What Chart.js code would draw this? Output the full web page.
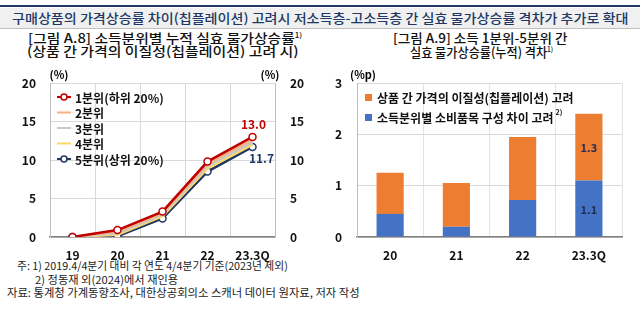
<!DOCTYPE html>
<html>
<head>
<meta charset="utf-8">
<script src="https://cdn.jsdelivr.net/npm/chart.js@4.4.0/dist/chart.umd.min.js"></script>
<style>
  body { margin: 0; width: 640px; height: 322px; background: #fff; position: relative; overflow: hidden;
         font-family: "Noto Sans CJK KR", "Noto Sans", sans-serif; }
  .abs { position: absolute; white-space: nowrap; transform-origin: 0 50%; line-height: 1; }
  #topline { position: absolute; left: 0; top: 5px; width: 640px; height: 2px; background: #1f3864; }
  #band { position: absolute; left: 0; top: 8px; width: 640px; height: 20px; background: #f0f0f0; border-bottom: 1px solid #bfbfbf; }
  #title { color: #203864; font-size: 13px; font-weight: 500; }
  .sub { color: #111; font-size: 13px; font-weight: 500; }
  .note { color: #222; font-size: 11px; }
  sup { font-size: 7px; vertical-align: 5px; line-height: 0; }
  canvas { position: absolute; }
</style>
</head>
<body>
<div id="topline"></div>
<div id="band"></div>
<div class="abs" id="title" data-x="12" data-y="17" data-w="616">구매상품의 가격상승률 차이(칩플레이션) 고려시 저소득층-고소득층 간 실효 물가상승률 격차가 추가로 확대</div>
<div class="abs sub" data-x="28" data-y="37" data-w="274">[그림 A.8] 소득분위별 누적 실효 물가상승률<sup>1)</sup></div>
<div class="abs sub" data-x="27" data-y="50" data-w="271">(상품 간 가격의 이질성(칩플레이션) 고려 시)</div>
<div class="abs sub" data-x="393" data-y="37" data-w="174">[그림 A.9] 소득 1분위-5분위 간</div>
<div class="abs sub" data-x="410" data-y="51" data-w="143">실효 물가상승률(누적) 격차<sup>1)</sup></div>
<div class="abs note" data-x="17" data-y="265" data-w="271">주: 1) 2019.4/4분기 대비 각 연도 4/4분기 기준(2023년 제외)</div>
<div class="abs note" data-x="35" data-y="279" data-w="143">2) 정동재 외(2024)에서 재인용</div>
<div class="abs note" data-x="7" data-y="292" data-w="353">자료: 통계청 가계동향조사, 대한상공회의소 스캐너 데이터 원자료, 저자 작성</div>

<canvas id="lineChart" width="320" height="206" style="left:0;top:60px;width:320px;height:206px"></canvas>
<canvas id="barChart" width="320" height="206" style="left:320px;top:60px;width:320px;height:206px"></canvas>

<script>
// left chart: cumulative effective inflation by income quintile (%)
const lineLabels = ['19', '20', '21', '22', '23.3Q'];
const q1 = [0, 0.9, 3.3, 9.8, 13.0];
const q2 = [0, 0.7, 3.1, 9.5, 12.6];
const q3 = [0, 0.5, 2.9, 9.2, 12.3];
const q4 = [0, 0.3, 2.7, 8.9, 12.0];
const q5 = [0, 0.1, 2.4, 8.5, 11.7];
const lineNames = ['1분위(하위 20%)', '2분위', '3분위', '4분위', '5분위(상위 20%)'];

// right chart: gap between Q1 and Q5 (%p)
const barLabels = ['20', '21', '22', '23.3Q'];
const chipGap = [0.8, 0.85, 1.23, 1.3];
const itemGap = [0.45, 0.2, 0.72, 1.1];
const barNames = ['상품 간 가격의 이질성(칩플레이션) 고려', '소득분위별 소비품목 구성 차이 고려'];

const FONT = '"Noto Sans CJK KR", "Noto Sans", sans-serif';

// place / squeeze the html text lines
document.querySelectorAll('.abs').forEach(el => {
    const w = parseFloat(el.dataset.w);
    const h = el.offsetHeight;
    el.style.left = el.dataset.x + 'px';
    el.style.top = (parseFloat(el.dataset.y) - h / 2) + 'px';
    el.style.transform = 'scaleX(' + (w / el.scrollWidth) + ')';
});

const lineColors = ['#c00000', '#f4b183', '#c9c9c9', '#ffd966', '#1f3864'];

function lineSet(i, data) {
    const marked = (i === 0 || i === 4);
    return {
        label: lineNames[i],
        data: data,
        borderColor: lineColors[i],
        backgroundColor: '#ffffff',
        borderWidth: 2.5,
        pointRadius: marked ? 3.5 : 0,
        pointBorderWidth: 1.5,
        pointBackgroundColor: '#ffffff',
        pointBorderColor: lineColors[i],
        tension: 0
    };
}

const lineExtras = {
    id: 'lineExtras',
    afterDraw(chart) {
        const ctx = chart.ctx;
        const area = chart.chartArea;
        ctx.save();
        ctx.font = 'bold 11px ' + FONT;
        ctx.fillStyle = '#000';
        ctx.textAlign = 'center';
        ctx.textBaseline = 'middle';
        ctx.fillText('(%)', area.left + 9, 15);
        ctx.fillText('(%)', area.right - 5, 15);

        // legend
        ctx.font = 'bold 12px ' + FONT;
        ctx.textAlign = 'left';
        chart.data.datasets.forEach((ds, i) => {
            const y = 37 + i * 15.5;
            const x = area.left + 7;
            ctx.strokeStyle = ds.borderColor;
            ctx.lineWidth = 2;
            ctx.beginPath();
            ctx.moveTo(x, y);
            ctx.lineTo(x + 14, y);
            ctx.stroke();
            if (ds.pointRadius > 0) {
                ctx.fillStyle = '#fff';
                ctx.lineWidth = 1.5;
                ctx.beginPath();
                ctx.arc(x + 7, y, 3, 0, Math.PI * 2);
                ctx.fill();
                ctx.stroke();
            }
            ctx.fillStyle = '#111';
            ctx.fillText(ds.label, x + 18, y + 1);
        });

        // end labels
        ctx.textAlign = 'center';
        ctx.font = 'bold 12px ' + FONT;
        const last = lineLabels.length - 1;
        const p1 = chart.getDatasetMeta(0).data[last];
        const p5 = chart.getDatasetMeta(4).data[last];
        ctx.fillStyle = '#c00000';
        ctx.fillText(q1[last].toFixed(1), p1.x + 1, p1.y - 12);
        ctx.fillStyle = '#1f3864';
        ctx.fillText(q5[last].toFixed(1), p5.x + 9, p5.y + 12);
        ctx.restore();
    }
};

const tickFont = { family: FONT, size: 12, weight: 'bold' };

new Chart(document.getElementById('lineChart'), {
    type: 'line',
    data: {
        labels: lineLabels,
        datasets: [lineSet(0, q1), lineSet(1, q2), lineSet(2, q3), lineSet(3, q4), lineSet(4, q5)]
    },
    options: {
        responsive: false,
        animation: false,
        layout: { padding: { top: 23, left: 0, right: 0, bottom: 0 } },
        plugins: { legend: { display: false }, tooltip: { enabled: false } },
        scales: {
            x: {
                offset: true,
                grid: { offset: true, color: '#d9d9d9', drawTicks: false },
                border: { color: '#7f7f7f', width: 1.5 },
                ticks: { font: tickFont, color: '#111', padding: 11 },
                afterFit(s) { s.height = 29; }
            },
            y: {
                position: 'left',
                min: 0, max: 20,
                grid: { color: '#d9d9d9', drawTicks: false },
                border: { color: '#bfbfbf' },
                ticks: { stepSize: 5, font: tickFont, color: '#111', padding: 14 },
                afterFit(s) { s.width = 50; }
            },
            y2: {
                position: 'right',
                min: 0, max: 20,
                grid: { drawOnChartArea: false, drawTicks: false },
                border: { color: '#bfbfbf' },
                ticks: { stepSize: 5, font: tickFont, color: '#111', padding: 15 },
                afterFit(s) { s.width = 45; }
            }
        }
    },
    plugins: [lineExtras]
});

const barColors = ['#ed7d31', '#4472c4'];

const barExtras = {
    id: 'barExtras',
    afterDraw(chart) {
        const ctx = chart.ctx;
        const area = chart.chartArea;
        ctx.save();
        ctx.font = 'bold 11px ' + FONT;
        ctx.fillStyle = '#000';
        ctx.textAlign = 'center';
        ctx.textBaseline = 'middle';
        ctx.fillText('(%p)', area.left + 6, 15);

        // legend
        ctx.font = 'bold 12px ' + FONT;
        ctx.textAlign = 'left';
        [0, 1].forEach(i => {
            const y = 38 + i * 20;
            const x = area.left + 8;
            ctx.fillStyle = barColors[i];
            ctx.fillRect(x, y - 4, 7, 7);
            ctx.fillStyle = '#111';
            ctx.fillText(barNames[i], x + 12, y);
            if (i === 1) {
                const w = ctx.measureText(barNames[i]).width;
                ctx.font = 'bold 7px ' + FONT;
                ctx.fillText('2)', x + 14 + w, y - 6);
            }
        });

        // value labels on last bar
        ctx.font = 'bold 11px ' + FONT;
        ctx.textAlign = 'center';
        ctx.fillStyle = '#1f2d50';
        const last = barLabels.length - 1;
        chart.data.datasets.forEach((ds, i) => {
            const bar = chart.getDatasetMeta(i).data[last];
            const mid = (bar.y + bar.base) / 2;
            ctx.fillText(ds.data[last].toFixed(1), bar.x, mid + 1);
        });
        ctx.restore();
    }
};

new Chart(document.getElementById('barChart'), {
    type: 'bar',
    data: {
        labels: barLabels,
        datasets: [
            { label: barNames[1], data: itemGap, backgroundColor: barColors[1], categoryPercentage: 1, barPercentage: 0.41 },
            { label: barNames[0], data: chipGap, backgroundColor: barColors[0], categoryPercentage: 1, barPercentage: 0.41 }
        ]
    },
    options: {
        responsive: false,
        animation: false,
        layout: { padding: { top: 23, left: 0, right: 18, bottom: 0 } },
        plugins: { legend: { display: false }, tooltip: { enabled: false } },
        scales: {
            x: {
                stacked: true,
                grid: { color: '#e3e3e3', drawTicks: false },
                border: { color: '#7f7f7f', width: 1.5 },
                ticks: { font: tickFont, color: '#111', padding: 11 },
                afterFit(s) { s.height = 29; }
            },
            y: {
                stacked: true,
                min: 0, max: 3,
                grid: { color: '#d9d9d9', drawTicks: false },
                border: { color: '#bfbfbf' },
                ticks: { stepSize: 1, font: tickFont, color: '#111', padding: 15 },
                afterFit(s) { s.width = 37; }
            }
        }
    },
    plugins: [barExtras]
});
</script>
</body>
</html>
